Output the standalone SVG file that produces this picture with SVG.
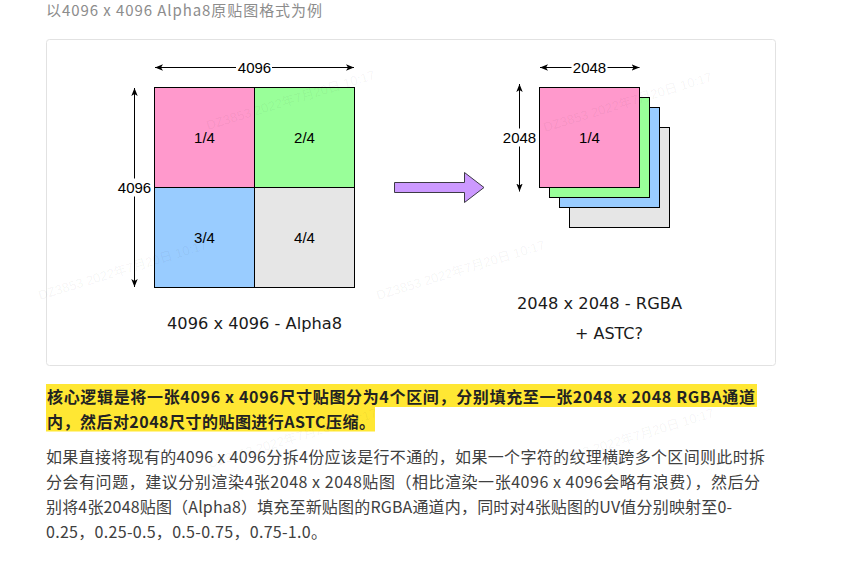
<svg xmlns="http://www.w3.org/2000/svg" width="848" height="583" viewBox="0 0 848 583">
<style>
.web{font-family:"Noto Sans CJK SC","Noto Sans",sans-serif}
.lbl{font-family:"Liberation Sans",Arial,sans-serif;font-size:15px;fill:#000}
.cap{font-family:"DejaVu Sans","Noto Sans CJK SC",sans-serif;font-size:16px;fill:#1a1a1a}
.cell{stroke:#000;stroke-width:1}
.dim{stroke:#000;stroke-width:1;fill:none;marker-start:url(#ah);marker-end:url(#ah)}
.wm{font-family:"Liberation Sans","Noto Sans CJK SC",sans-serif;font-size:13px;fill:#000;fill-opacity:0.05}
.para{font-size:16px;fill:#404040}
.hl{font-size:16px;font-weight:bold;fill:#222}
</style>
<defs>
<marker id="ah" viewBox="0 0 10 10" refX="10" refY="5" markerWidth="8" markerHeight="8" markerUnits="userSpaceOnUse" orient="auto-start-reverse">
<path d="M0,1 L10,5 L0,9 L2.5,5 z" fill="#000"/>
</marker>
</defs>
<rect width="848" height="583" fill="#fff"/>
<text class="web" x="46" y="16" font-size="15" fill="#8c8c8c" textLength="276" lengthAdjust="spacing">以4096 x 4096 Alpha8原贴图格式为例</text>
<rect id="card" x="46.5" y="39.5" width="729" height="326" rx="3" fill="#fff" stroke="#e2e2e2"/>
<g id="grid">
<g id="q1"><rect class="cell" x="154.5" y="87.5" width="100" height="100" fill="#FF99CC"/><text class="lbl" x="204.5" y="142.5" text-anchor="middle">1/4</text></g>
<g id="q2"><rect class="cell" x="254.5" y="87.5" width="100" height="100" fill="#99FF99"/><text class="lbl" x="304.5" y="142.5" text-anchor="middle">2/4</text></g>
<g id="q3"><rect class="cell" x="154.5" y="187.5" width="100" height="100" fill="#99CCFF"/><text class="lbl" x="204.5" y="243" text-anchor="middle">3/4</text></g>
<g id="q4"><rect class="cell" x="254.5" y="187.5" width="100" height="100" fill="#E6E6E6"/><text class="lbl" x="304.5" y="243" text-anchor="middle">4/4</text></g>
</g>
<g id="stack">
<g id="layer4"><rect class="cell" x="569.5" y="127.5" width="100" height="100" fill="#E6E6E6"/></g>
<g id="layer3"><rect class="cell" x="559.5" y="107.5" width="100" height="100" fill="#99CCFF"/></g>
<g id="layer2"><rect class="cell" x="549.5" y="97.5" width="100" height="100" fill="#99FF99"/></g>
<g id="layer1"><rect class="cell" x="539.5" y="87.5" width="100" height="100" fill="#FF99CC"/><text class="lbl" x="589.5" y="143" text-anchor="middle">1/4</text></g>
</g>
<g id="bigarrow">
<path d="M394.5,182.5 L464.5,182.5 L464.5,172.5 L484,187.5 L464.5,202.5 L464.5,192.5 L394.5,192.5 Z" fill="#CC99FF" stroke="#3d3a45" stroke-width="1"/>
</g>
<g id="connectors">
<path class="dim" d="M155,67.5 L354,67.5"/>
<path class="dim" d="M134.5,88 L134.5,287"/>
<path class="dim" d="M540,67.5 L639.5,67.5"/>
<path class="dim" d="M519.5,84 L519.5,191.5"/>
</g>
<g id="dimlabels">
<rect x="236" y="59" width="36" height="17" fill="#fff"/>
<text class="lbl" x="254.5" y="73" text-anchor="middle">4096</text>
<rect x="116" y="178.5" width="37" height="18" fill="#fff"/>
<text class="lbl" x="134.5" y="193" text-anchor="middle">4096</text>
<rect x="571.5" y="59" width="36" height="17" fill="#fff"/>
<text class="lbl" x="589.5" y="72.5" text-anchor="middle">2048</text>
<rect x="501" y="128.5" width="37" height="18" fill="#fff"/>
<text class="lbl" x="519.5" y="143" text-anchor="middle">2048</text>
</g>
<g id="captions">
<text class="cap" x="167" y="328.5" textLength="175" lengthAdjust="spacingAndGlyphs">4096 x 4096 - Alpha8</text>
<text class="cap" x="517" y="309" textLength="165" lengthAdjust="spacingAndGlyphs">2048 x 2048 - RGBA</text>
<text class="cap" x="575" y="338.5" textLength="68" lengthAdjust="spacingAndGlyphs">+ ASTC?</text>
</g>
<g id="highlight">
<rect x="46" y="384" width="711" height="23" fill="#FFE733"/>
<rect x="46" y="407" width="329" height="24.5" fill="#FFE733"/>
<text class="web hl" x="47" y="402.5" textLength="708" lengthAdjust="spacing">核心逻辑是将一张4096 x 4096尺寸贴图分为4个区间，分别填充至一张2048 x 2048 RGBA通道</text>
<text class="web hl" x="47" y="427.5" textLength="328" lengthAdjust="spacing">内，然后对2048尺寸的贴图进行ASTC压缩。</text>
</g>
<g id="paragraph">
<text class="web para" x="46" y="463" textLength="719" lengthAdjust="spacing">如果直接将现有的4096 x 4096分拆4份应该是行不通的，如果一个字符的纹理横跨多个区间则此时拆</text>
<text class="web para" x="46" y="488" textLength="714" lengthAdjust="spacing">分会有问题，建议分别渲染4张2048 x 2048贴图（相比渲染一张4096 x 4096会略有浪费），然后分</text>
<text class="web para" x="46" y="513" textLength="686" lengthAdjust="spacing">别将4张2048贴图（Alpha8）填充至新贴图的RGBA通道内，同时对4张贴图的UV值分别映射至0-</text>
<text class="web para" x="46" y="538" textLength="281" lengthAdjust="spacing">0.25，0.25-0.5，0.5-0.75，0.75-1.0。</text>
</g>
<g id="watermarks">
<text class="wm" transform="translate(208,130) rotate(-17)">DZ3853 2022年7月20日 10:17</text>
<text class="wm" transform="translate(545,132) rotate(-17)">DZ3853 2022年7月20日 10:17</text>
<text class="wm" transform="translate(40,300) rotate(-17)">DZ3853 2022年7月20日 10:17</text>
<text class="wm" transform="translate(378,300) rotate(-17)">DZ3853 2022年7月20日 10:17</text>
<text class="wm" transform="translate(210,468) rotate(-17)">DZ3853 2022年7月20日 10:17</text>
<text class="wm" transform="translate(547,468) rotate(-17)">DZ3853 2022年7月20日 10:17</text>
</g>
</svg>
